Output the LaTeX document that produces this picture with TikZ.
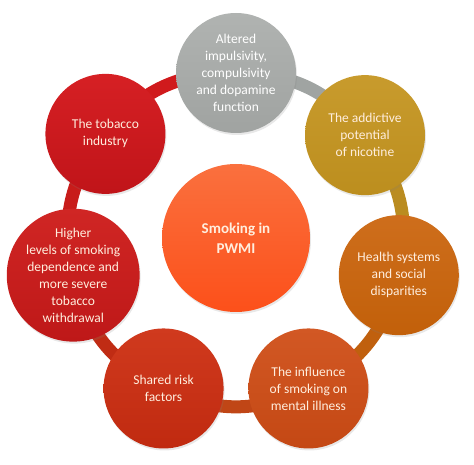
\documentclass[tikz,border=0pt]{standalone}
\usepackage{fontspec}
\setmainfont{Carlito}
\usetikzlibrary{backgrounds,shadows,calc}
\definecolor{cGrayT}{RGB}{176,179,177}\definecolor{cGrayB}{RGB}{160,163,161}
\definecolor{cGoldT}{RGB}{200,155,45}\definecolor{cGoldB}{RGB}{188,142,30}
\definecolor{cHlthT}{RGB}{206,110,28}\definecolor{cHlthB}{RGB}{194,96,10}
\definecolor{cInflT}{RGB}{210,88,36}\definecolor{cInflB}{RGB}{196,72,20}
\definecolor{cShrdT}{RGB}{208,58,30}\definecolor{cShrdB}{RGB}{192,42,16}
\definecolor{cHighT}{RGB}{208,38,36}\definecolor{cHighB}{RGB}{190,24,24}
\definecolor{cTobT}{RGB}{214,32,36}\definecolor{cTobB}{RGB}{192,20,25}
\definecolor{cCtrT}{RGB}{250,112,62}\definecolor{cCtrB}{RGB}{252,80,26}
\definecolor{cText}{RGB}{255,238,222}
\definecolor{bGray}{RGB}{160,164,162}
\definecolor{bGold}{RGB}{186,140,32}
\definecolor{bHlth}{RGB}{192,96,14}
\definecolor{bInfl}{RGB}{192,70,22}
\definecolor{bShrd}{RGB}{192,44,20}
\definecolor{bHigh}{RGB}{200,28,26}
\definecolor{bTob}{RGB}{208,26,28}
\tikzset{
  bubble/.style n args={2}{circle, minimum size=120pt, inner sep=0pt, align=center,
    top color=#1, bottom color=#2, draw=none, text=cText,
    font=\fontsize{13.5}{17}\selectfont,
    drop shadow={opacity=0.18, shadow xshift=1pt, shadow yshift=-2pt}},
  band/.style={line width=13pt, draw=#1},
}
\begin{document}
\begin{tikzpicture}[x=1pt,y=1pt]
\useasboundingbox (0,0) rectangle (474,464);
\coordinate (O) at (236,226);
\node[bubble={cCtrT}{cCtrB}, minimum size=148pt, font=\bfseries\fontsize{15}{20}\selectfont] (ctr) at (O) {Smoking in\\PWMI};
\node[bubble={cGrayT}{cGrayB}, text=white] (gray) at ($(O)+(90:165)$) {Altered\\impulsivity,\\compulsivity\\and dopamine\\function};
\node[bubble={cGoldT}{cGoldB}] (gold) at ($(O)+(38.57:165)$) {The addictive\\potential\\of nicotine};
\node[bubble={cHlthT}{cHlthB}] (hlth) at ($(O)+(-12.86:167)$) {Health systems\\and social\\disparities};
\node[bubble={cInflT}{cInflB}] (infl) at ($(O)+(-64.29:167)$) {The influence\\of smoking on\\mental illness};
\node[bubble={cShrdT}{cShrdB}] (shrd) at ($(O)+(-115.71:167)$) {Shared risk\\factors};
\node[bubble={cHighT}{cHighB}] (high) at ($(O)+(-167.14:167)$) {Higher\\levels of smoking\\dependence and\\more severe\\tobacco\\withdrawal};
\node[bubble={cTobT}{cTobB}] (tob) at ($(O)+(141.43:167)$) {The tobacco\\industry};
\begin{pgfonlayer}{background}
\draw[band=bGray] (gray.center) to[bend left=25.7] (gold.center);
\draw[band=bGold] (gold.center) to[bend left=25.7] (hlth.center);
\draw[band=bHlth] (hlth.center) to[bend left=25.7] (infl.center);
\draw[band=bInfl] (infl.center) to[bend left=25.7] (shrd.center);
\draw[band=bShrd] (shrd.center) to[bend left=25.7] (high.center);
\draw[band=bHigh] (high.center) to[bend left=25.7] (tob.center);
\draw[band=bTob] (tob.center) to[bend left=25.7] (gray.center);
\end{pgfonlayer}
\end{tikzpicture}
\end{document}
